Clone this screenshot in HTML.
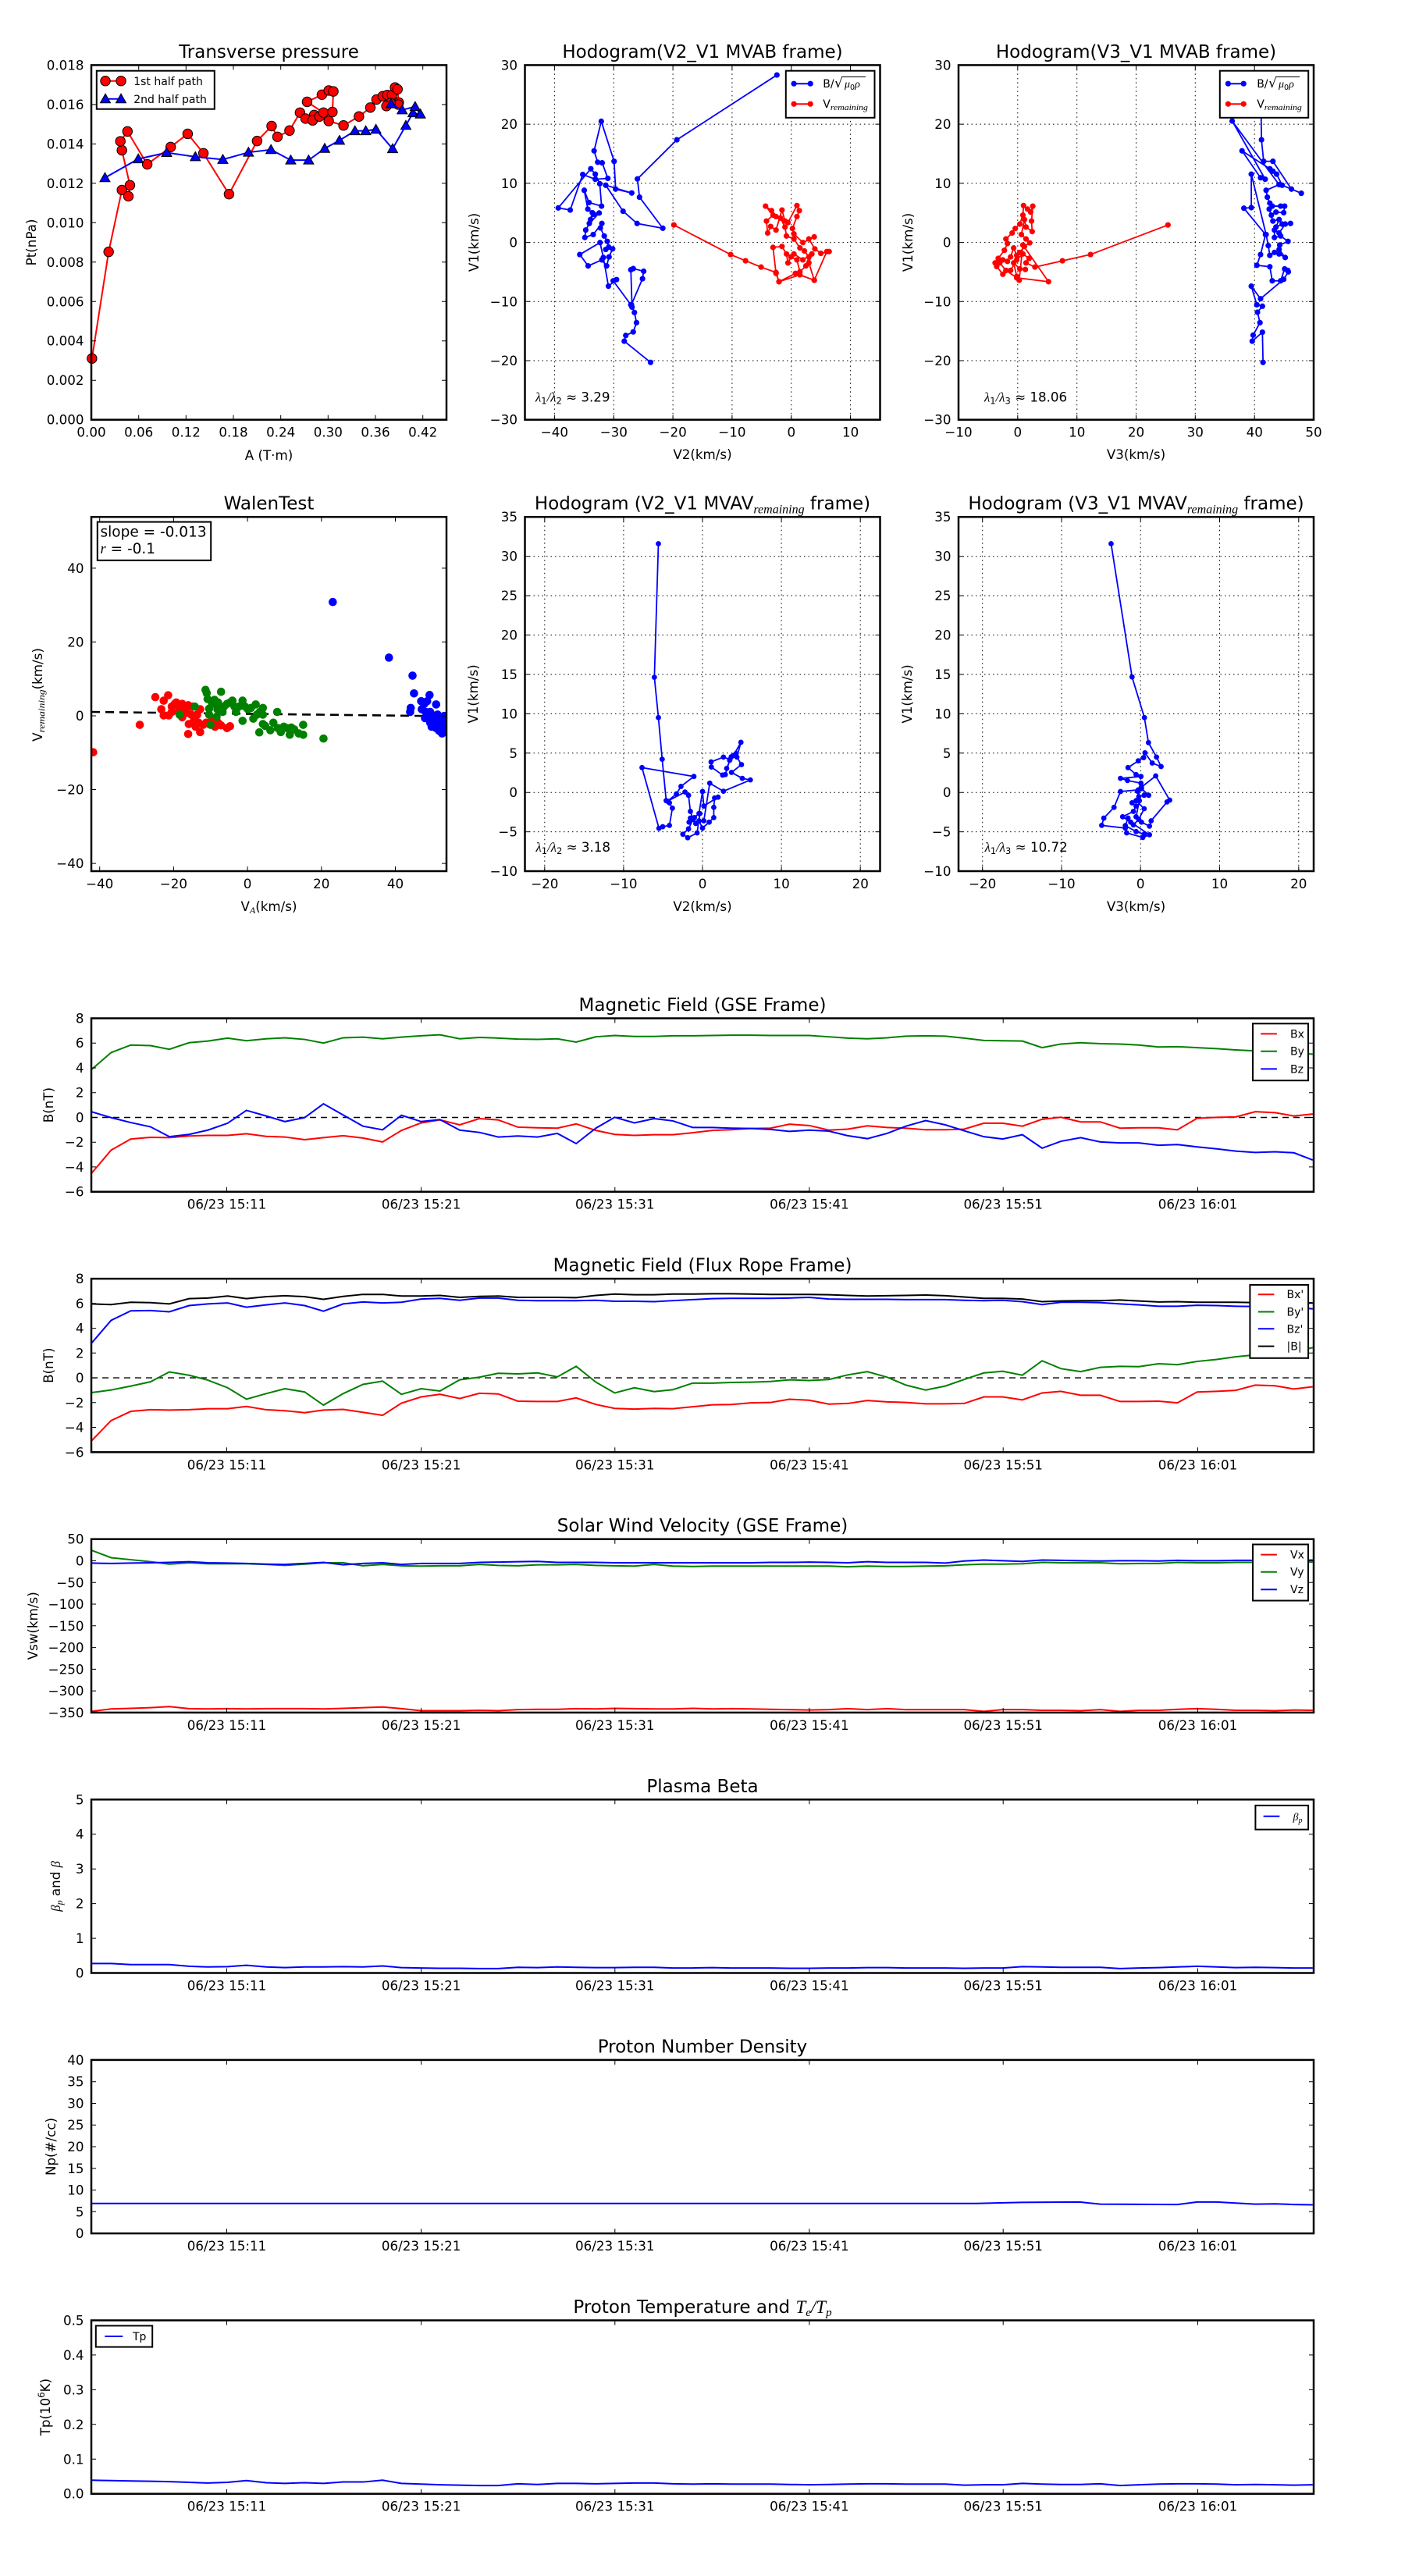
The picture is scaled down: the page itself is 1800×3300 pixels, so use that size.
<!DOCTYPE html>
<html><head><meta charset="utf-8">
<style>
html,body{margin:0;padding:0;background:#fff;width:1800px;height:3300px;overflow:hidden}
svg{display:block}
text{font-family:"DejaVu Sans","Liberation Sans",sans-serif;fill:#000}
.m{font-family:"Liberation Serif","DejaVu Serif",serif;font-style:italic}
.t{font-size:23px}
.k{font-size:16.7px}
.lg{font-size:14px}
.fr{fill:none;stroke:#000;stroke-width:2.5}
.tk{fill:none;stroke:#000;stroke-width:1}
.gd{fill:none;stroke:#000;stroke-width:1;stroke-dasharray:1.5,4}
.ln{fill:none;stroke-width:2;vector-effect:non-scaling-stroke}
.lb{fill:#fff;stroke:#000;stroke-width:2}
</style></head>
<body>
<svg width="1800" height="3300" viewBox="0 0 1800 3300" xmlns="http://www.w3.org/2000/svg">
<defs>
<marker id="mr1" viewBox="-7 -7 14 14" markerWidth="35.4" markerHeight="36.6" markerUnits="userSpaceOnUse" preserveAspectRatio="none" overflow="visible"><circle r="6.2" fill="#f00" stroke="#000" stroke-width="1"/></marker>
<marker id="mt1" viewBox="-7 -7 14 14" markerWidth="35.4" markerHeight="36.6" markerUnits="userSpaceOnUse" preserveAspectRatio="none" overflow="visible"><polygon points="0,-6.5 -6.5,5 6.5,5" fill="#00f" stroke="#000" stroke-width="1"/></marker>
<marker id="d2b" viewBox="-4 -4 8 8" markerWidth="20.9" markerHeight="20.9" markerUnits="userSpaceOnUse" preserveAspectRatio="none"><circle r="3.6" fill="#00f"/></marker>
<marker id="d2r" viewBox="-4 -4 8 8" markerWidth="20.9" markerHeight="20.9" markerUnits="userSpaceOnUse" preserveAspectRatio="none"><circle r="3.6" fill="#f00"/></marker>
<marker id="d3b" viewBox="-4 -4 8 8" markerWidth="20.23" markerHeight="20.9" markerUnits="userSpaceOnUse" preserveAspectRatio="none"><circle r="3.6" fill="#00f"/></marker>
<marker id="d3r" viewBox="-4 -4 8 8" markerWidth="20.23" markerHeight="20.9" markerUnits="userSpaceOnUse" preserveAspectRatio="none"><circle r="3.6" fill="#f00"/></marker>
<marker id="d9b" viewBox="-4 -4 8 8" markerWidth="23.23" markerHeight="23.23" markerUnits="userSpaceOnUse" preserveAspectRatio="none"><circle r="3.4" fill="#00f"/></marker>
<marker id="wr" viewBox="-5.5 -5.5 11 11" markerWidth="28.74" markerHeight="31.94" markerUnits="userSpaceOnUse" preserveAspectRatio="none"><circle r="5.3" fill="#f00"/></marker>
<marker id="wg" viewBox="-5.5 -5.5 11 11" markerWidth="28.74" markerHeight="31.94" markerUnits="userSpaceOnUse" preserveAspectRatio="none"><circle r="5.3" fill="#008000"/></marker>
<marker id="wb" viewBox="-5.5 -5.5 11 11" markerWidth="28.74" markerHeight="31.94" markerUnits="userSpaceOnUse" preserveAspectRatio="none"><circle r="5.3" fill="#00f"/></marker>
<clipPath id="cw"><rect x="117" y="662.2" width="455" height="453.8"/></clipPath>

<polyline id="p1r" vector-effect="non-scaling-stroke" points="298,1200 352,843 395,636 416,657 421,620 395,503 390,473 413,440 477,550 553,492 608,448 659,513 742,650 833,472 880,422 899,458 938,437 972,377 990,397 1018,385 1013,403 1035,390 1048,377 995,341 1043,317 1065,303 1080,306 1077,375 1065,405 1113,420 1163,390 1200,360 1220,333 1240,322 1255,318 1270,318 1280,293 1288,299 1292,343 1290,350 1265,345 1252,355"/>
<polyline id="p1b" vector-effect="non-scaling-stroke" points="340,595 448,532 540,511 633,525 722,534 805,510 878,501 942,536 1000,536 1052,497 1100,470 1150,438 1185,438 1218,433 1272,498 1315,420 1338,378 1362,382 1345,357 1303,368 1267,348"/>
<polyline id="p2b" vector-effect="non-scaling-stroke" points="1033,251 698,468 566,599 573,660 651,764 565,748 518,707 460,620 547,646 493,633 488,540 445,406 421,505 433,543 448,545 467,597 425,600 383,584 341,703 301,696 410,565 425,583 440,615 446,690 404,678 388,637 400,700 415,712 409,735 420,717 438,713 405,748 393,770 390,795 418,785 447,748 442,763 455,790 465,808 470,827 460,835 483,833 471,860 463,890 447,870 401,890 373,852 441,812 452,862 469,958 496,936 485,940 544,1020 548,1028 544,903 552,899 587,908 583,933 546,1020 556,1046 563,1080 552,1111 527,1123 522,1142 610,1213"/>
<polyline id="p2r" vector-effect="non-scaling-stroke" points="688,753 878,852 928,873 980,894 1030,912 1040,943 1095,915 1158,938 1200,842 1208,842 1180,848 1160,833 1140,800 1158,793 1120,812 1090,783 1085,765 1100,725 1108,705 1100,688 1070,745 1060,740 1050,703 1030,770 1012,758 1002,780 998,740 1020,720 995,690 1015,705 1030,725 1045,730 1060,760 1065,790 1090,800 1110,830 1125,840 1140,860 1130,890 1110,910 1100,870 1080,860 1070,880 1065,850 1050,825 1020,828 1030,915 1040,943 1110,920 1158,938 1140,880 1150,850 1120,870 1090,850"/>
<polyline id="p3r" vector-effect="non-scaling-stroke" points="800,753 549,852 458,873 369,894 340,880 350,865 330,850 310,870 290,905 265,918 245,892 240,880 250,865 270,838 280,815 275,800 295,780 305,765 320,750 330,720 332,688 345,700 355,710 362,690 358,740 360,775 340,760 335,735 325,785 340,800 352,813 335,825 320,845 310,855 300,830 290,860 280,875 265,870 255,880 275,905 310,930 413,943 330,820 318,938 310,925 300,880 320,900 338,902"/>
<polyline id="p3b" vector-effect="non-scaling-stroke" points="1100,251 1103,468 1110,540 1140,540 1200,633 1232,647 1170,620 1152,583 1140,573 1130,565 1040,505 1100,595 1115,600 1008,405 1160,618 1118,637 1122,660 1130,680 1138,690 1165,690 1178,690 1175,712 1150,710 1135,720 1128,700 1140,740 1160,735 1150,760 1170,750 1197,748 1180,750 1160,780 1145,770 1145,795 1165,790 1189,808 1162,820 1160,835 1180,862 1160,850 1145,845 1130,855 1125,822 1118,785 1070,583 1070,695 1046,697 1116,785 1100,852 1088,888 1130,893 1138,940 1165,940 1178,900 1188,905 1190,910 1175,935 1100,1000 1070,958 1088,1020 1106,1025 1090,1045 1098,1080 1076,1122 1073,1142 1106,1112 1108,1213"/>
<polyline id="p5" vector-effect="non-scaling-stroke" points="591,164 576,661 591,811 605,966 620,1120 632,1128 643,1148 632,1212 607,1217 593,1223 530,997 723,1030 675,1067 658,1095 625,1122 690,1088 703,1100 710,1160 720,1190 703,1225 682,1245 700,1258 735,1240 745,1168 742,1195 755,1222 780,1200 797,1183 797,1145 800,1110 813,1107 760,1140 755,1086 742,1168 725,1183 705,1200 710,1185 730,1205 760,1195 782,1055 833,1085 933,1043 903,1037 863,1015 900,986 883,958 898,903 870,952 857,967 833,958 787,976 788,995 830,1025 840,1023 856,970 880,945 862,957 845,1000"/>
<polyline id="p6" vector-effect="non-scaling-stroke" points="707,164 785,660 831,811 846,904 876,958 893,993 860,980 833,942 828,960 808,972 770,997 800,1023 818,1030 742,1037 768,1045 818,1055 808,1080 742,1086 718,1145 680,1185 672,1212 760,1222 765,1240 825,1257 850,1247 780,1200 750,1180 790,1160 800,1140 785,1128 810,1105 830,1100 847,1100 820,1075 805,1085 812,1120 800,1180 820,1200 850,1215 856,1195 915,1125 925,1118 873,1028 820,1070 800,1120 830,1150 810,1190 790,1210 770,1185 760,1213 800,1235 830,1245"/>
</defs>

<!-- ================= ROW 1 ================= -->
<!-- Panel 1 -->
<text class="t" x="344.5" y="74" text-anchor="middle">Transverse pressure</text>
<g transform="scale(0.39541,0.3827)">
<use href="#p1r" fill="none" stroke="#f00" stroke-width="2"/>
<use href="#p1r" fill="none" stroke="none" marker-start="url(#mr1)" marker-mid="url(#mr1)" marker-end="url(#mr1)"/>
<use href="#p1b" fill="none" stroke="#00f" stroke-width="2"/>
<use href="#p1b" fill="none" stroke="none" marker-start="url(#mt1)" marker-mid="url(#mt1)" marker-end="url(#mt1)"/>
</g>
<rect class="fr" x="117" y="83.4" width="455" height="454.3"/>
<path class="tk" d="M177.7 537.7v-6M238.3 537.7v-6M299 537.7v-6M359.7 537.7v-6M420.3 537.7v-6M481 537.7v-6M541.7 537.7v-6M177.7 83.4v6M238.3 83.4v6M299 83.4v6M359.7 83.4v6M420.3 83.4v6M481 83.4v6M541.7 83.4v6M117 487.2h6M117 436.7h6M117 386.3h6M117 335.8h6M117 285.3h6M117 234.8h6M117 184.4h6M117 133.9h6M572 487.2h-6M572 436.7h-6M572 386.3h-6M572 335.8h-6M572 285.3h-6M572 234.8h-6M572 184.4h-6M572 133.9h-6"/>
<g class="k" text-anchor="end">
<text x="107.5" y="89.4">0.018</text><text x="107.5" y="139.9">0.016</text><text x="107.5" y="190.4">0.014</text><text x="107.5" y="240.8">0.012</text><text x="107.5" y="291.3">0.010</text><text x="107.5" y="341.8">0.008</text><text x="107.5" y="392.3">0.006</text><text x="107.5" y="442.7">0.004</text><text x="107.5" y="493.2">0.002</text><text x="107.5" y="543.7">0.000</text>
</g>
<g class="k" text-anchor="middle">
<text x="117" y="559.5">0.00</text><text x="177.7" y="559.5">0.06</text><text x="238.3" y="559.5">0.12</text><text x="299" y="559.5">0.18</text><text x="359.7" y="559.5">0.24</text><text x="420.3" y="559.5">0.30</text><text x="481" y="559.5">0.36</text><text x="541.7" y="559.5">0.42</text>
<text x="344.5" y="589">A (T·m)</text>
<text transform="translate(46,310.5) rotate(-90)">Pt(nPa)</text>
</g>
<rect class="lb" x="123.8" y="90.7" width="151" height="49"/>
<path d="M135 103.7H155" stroke="#f00" stroke-width="2"/>
<circle cx="135" cy="103.7" r="6.2" fill="#f00" stroke="#000"/><circle cx="155" cy="103.7" r="6.2" fill="#f00" stroke="#000"/>
<text class="lg" x="171.2" y="108.8">1st half path</text>
<path d="M135 126.7H155" stroke="#00f" stroke-width="2"/>
<polygon points="135,120.2 128.5,131.7 141.5,131.7" fill="#00f" stroke="#000"/><polygon points="155,120.2 148.5,131.7 161.5,131.7" fill="#00f" stroke="#000"/>
<text class="lg" x="171.2" y="131.8">2nd half path</text>

<!-- Panel 2 -->
<text class="t" x="900" y="74" text-anchor="middle">Hodogram(V2_V1 MVAB frame)</text>
<path class="gd" d="M710.4 83.4V537.7M786.3 83.4V537.7M862.1 83.4V537.7M937.9 83.4V537.7M1013.8 83.4V537.7M1089.6 83.4V537.7M672.5 159.1H1127.5M672.5 234.8H1127.5M672.5 310.6H1127.5M672.5 386.3H1127.5M672.5 462H1127.5"/>
<g transform="translate(600,0) scale(0.3827)">
<use href="#p2b" fill="none" stroke="#00f" stroke-width="1.8"/>
<use href="#p2b" fill="none" stroke="none" marker-start="url(#d2b)" marker-mid="url(#d2b)" marker-end="url(#d2b)"/>
<use href="#p2r" fill="none" stroke="#f00" stroke-width="1.8"/>
<use href="#p2r" fill="none" stroke="none" marker-start="url(#d2r)" marker-mid="url(#d2r)" marker-end="url(#d2r)"/>
</g>
<rect class="fr" x="672.5" y="83.4" width="455" height="454.3"/>
<path class="tk" d="M710.4 537.7v-6M786.3 537.7v-6M862.1 537.7v-6M937.9 537.7v-6M1013.8 537.7v-6M1089.6 537.7v-6M710.4 83.4v6M786.3 83.4v6M862.1 83.4v6M937.9 83.4v6M1013.8 83.4v6M1089.6 83.4v6M672.5 159.1h6M672.5 234.8h6M672.5 310.6h6M672.5 386.3h6M672.5 462h6M1127.5 159.1h-6M1127.5 234.8h-6M1127.5 310.6h-6M1127.5 386.3h-6M1127.5 462h-6"/>
<g class="k" text-anchor="end">
<text x="663" y="89.4">30</text><text x="663" y="165.1">20</text><text x="663" y="240.8">10</text><text x="663" y="316.6">0</text><text x="663" y="392.3">−10</text><text x="663" y="468">−20</text><text x="663" y="543.7">−30</text>
</g>
<g class="k" text-anchor="middle">
<text x="710.4" y="559.5">−40</text><text x="786.3" y="559.5">−30</text><text x="862.1" y="559.5">−20</text><text x="937.9" y="559.5">−10</text><text x="1013.8" y="559.5">0</text><text x="1089.6" y="559.5">10</text>
<text x="900" y="588">V2(km/s)</text>
<text transform="translate(613,310.5) rotate(-90)">V1(km/s)</text>
</g>
<text class="k" x="686" y="514.7"><tspan class="m">λ</tspan><tspan font-size="11.5" dy="3">1</tspan><tspan class="m" dy="-3">/λ</tspan><tspan font-size="11.5" dy="3">2</tspan><tspan dy="-3"> ≈ 3.29</tspan></text>
<rect class="lb" x="1006.8" y="90.7" width="113.7" height="60.1"/>
<path d="M1017.1 107.2H1038.2" stroke="#00f" stroke-width="2"/><circle cx="1017.1" cy="107.2" r="3.6" fill="#00f"/><circle cx="1038.2" cy="107.2" r="3.6" fill="#00f"/>
<text class="lg" x="1054.3" y="112.2">B/<tspan x="1069" font-size="17">√</tspan><tspan class="m" x="1082">μ</tspan><tspan font-size="9.5" dy="3">0</tspan><tspan class="m" dy="-3">ρ</tspan></text>
<path d="M1078 98.5H1109" stroke="#000" stroke-width="0.9"/>
<path d="M1017.1 133.2H1038.2" stroke="#f00" stroke-width="2"/><circle cx="1017.1" cy="133.2" r="3.6" fill="#f00"/><circle cx="1038.2" cy="133.2" r="3.6" fill="#f00"/>
<text class="lg" x="1054.3" y="138.2">V<tspan class="m" font-size="11" dy="3" textLength="48" lengthAdjust="spacingAndGlyphs">remaining</tspan></text>

<!-- Panel 3 -->
<text class="t" x="1455.5" y="74" text-anchor="middle">Hodogram(V3_V1 MVAB frame)</text>
<path class="gd" d="M1303.8 83.4V537.7M1379.7 83.4V537.7M1455.5 83.4V537.7M1531.3 83.4V537.7M1607.2 83.4V537.7M1228 159.1H1683M1228 234.8H1683M1228 310.6H1683M1228 386.3H1683M1228 462H1683"/>
<g transform="translate(1180,0) scale(0.39541,0.3827)">
<use href="#p3b" fill="none" stroke="#00f" stroke-width="1.8"/>
<use href="#p3b" fill="none" stroke="none" marker-start="url(#d3b)" marker-mid="url(#d3b)" marker-end="url(#d3b)"/>
<use href="#p3r" fill="none" stroke="#f00" stroke-width="1.8"/>
<use href="#p3r" fill="none" stroke="none" marker-start="url(#d3r)" marker-mid="url(#d3r)" marker-end="url(#d3r)"/>
</g>
<rect class="fr" x="1228" y="83.4" width="455" height="454.3"/>
<path class="tk" d="M1303.8 537.7v-6M1379.7 537.7v-6M1455.5 537.7v-6M1531.3 537.7v-6M1607.2 537.7v-6M1303.8 83.4v6M1379.7 83.4v6M1455.5 83.4v6M1531.3 83.4v6M1607.2 83.4v6M1228 159.1h6M1228 234.8h6M1228 310.6h6M1228 386.3h6M1228 462h6M1683 159.1h-6M1683 234.8h-6M1683 310.6h-6M1683 386.3h-6M1683 462h-6"/>
<g class="k" text-anchor="end">
<text x="1218.5" y="89.4">30</text><text x="1218.5" y="165.1">20</text><text x="1218.5" y="240.8">10</text><text x="1218.5" y="316.6">0</text><text x="1218.5" y="392.3">−10</text><text x="1218.5" y="468">−20</text><text x="1218.5" y="543.7">−30</text>
</g>
<g class="k" text-anchor="middle">
<text x="1228" y="559.5">−10</text><text x="1303.8" y="559.5">0</text><text x="1379.7" y="559.5">10</text><text x="1455.5" y="559.5">20</text><text x="1531.3" y="559.5">30</text><text x="1607.2" y="559.5">40</text><text x="1683" y="559.5">50</text>
<text x="1455.5" y="588">V3(km/s)</text>
<text transform="translate(1169,310.5) rotate(-90)">V1(km/s)</text>
</g>
<text class="k" x="1261" y="514.7"><tspan class="m">λ</tspan><tspan font-size="11.5" dy="3">1</tspan><tspan class="m" dy="-3">/λ</tspan><tspan font-size="11.5" dy="3">3</tspan><tspan dy="-3"> ≈ 18.06</tspan></text>
<rect class="lb" x="1562.8" y="90.7" width="113.4" height="60.1"/>
<path d="M1573.4 107.2H1593.2" stroke="#00f" stroke-width="2"/><circle cx="1573.4" cy="107.2" r="3.6" fill="#00f"/><circle cx="1593.2" cy="107.2" r="3.6" fill="#00f"/>
<text class="lg" x="1610.2" y="112.2">B/<tspan x="1625" font-size="17">√</tspan><tspan class="m" x="1638">μ</tspan><tspan font-size="9.5" dy="3">0</tspan><tspan class="m" dy="-3">ρ</tspan></text>
<path d="M1634 98.5H1665" stroke="#000" stroke-width="0.9"/>
<path d="M1573.4 133.2H1593.2" stroke="#f00" stroke-width="2"/><circle cx="1573.4" cy="133.2" r="3.6" fill="#f00"/><circle cx="1593.2" cy="133.2" r="3.6" fill="#f00"/>
<text class="lg" x="1610.2" y="138.2">V<tspan class="m" font-size="11" dy="3" textLength="48" lengthAdjust="spacingAndGlyphs">remaining</tspan></text>

<!-- ================= ROW 2 ================= -->
<!-- Walen -->
<text class="t" x="344.5" y="652.7" text-anchor="middle">WalenTest</text>
<g clip-path="url(#cw)">
<line x1="117" y1="912" x2="572" y2="917.5" stroke="#000" stroke-width="2.6" stroke-dasharray="11,7"/>
<g transform="translate(0,640) scale(0.3827,0.34435)">
<polyline fill="none" stroke="none" marker-start="url(#wr)" marker-mid="url(#wr)" marker-end="url(#wr)" points="312,940 468,838 520,735 548,748 563,728 540,780 548,803 565,803 575,790 590,755 600,780 610,810 615,770 625,790 630,765 632,835 630,872 640,800 650,820 660,800 665,830 670,780 670,865 680,838 690,830 700,835 710,820 720,845 730,830 740,840 760,850 770,843 575,770 585,760 610,760 620,795 655,845 600,795 645,770"/>
<polyline fill="none" stroke="none" marker-start="url(#wg)" marker-mid="url(#wg)" marker-end="url(#wg)" points="601,800 652,770 688,708 695,742 692,720 705,838 700,778 710,760 718,745 730,755 740,715 745,790 750,770 760,760 770,755 778,748 785,770 790,790 800,770 812,748 812,823 820,770 830,780 840,775 848,815 856,762 860,800 870,790 868,866 880,775 880,800 880,835 888,842 905,858 915,830 928,790 930,850 940,865 950,845 960,850 970,875 975,848 985,855 1000,870 1015,838 1015,875 1083,889 728,780 725,808 700,800"/>
<polyline fill="none" stroke="none" marker-start="url(#wb)" marker-mid="url(#wb)" marker-end="url(#wb)" points="1114,381 1302,588 1381,655 1386,721 1438,727 1375,775 1373,790 1410,750 1420,760 1430,750 1460,762 1412,780 1425,790 1440,790 1445,800 1455,810 1423,813 1440,830 1450,840 1460,820 1470,835 1480,830 1487,805 1460,850 1470,860 1480,870 1475,845 1485,850 1445,845 1432,805 1465,800 1478,820 1490,860"/>
</g>
</g>
<rect class="fr" x="117" y="662.2" width="455" height="453.8"/>
<path class="tk" d="M127.7 1116v-6M222.4 1116v-6M317.1 1116v-6M411.8 1116v-6M506.5 1116v-6M127.7 662.2v6M222.4 662.2v6M317.1 662.2v6M411.8 662.2v6M506.5 662.2v6M117 727.9h6M117 822.4h6M117 917h6M117 1011.5h6M117 1106.1h6M572 727.9h-6M572 822.4h-6M572 917h-6M572 1011.5h-6M572 1106.1h-6"/>
<g class="k" text-anchor="end">
<text x="107.5" y="733.9">40</text><text x="107.5" y="828.4">20</text><text x="107.5" y="923">0</text><text x="107.5" y="1017.5">−20</text><text x="107.5" y="1112.1">−40</text>
</g>
<g class="k" text-anchor="middle">
<text x="127.7" y="1137.8">−40</text><text x="222.4" y="1137.8">−20</text><text x="317.1" y="1137.8">0</text><text x="411.8" y="1137.8">20</text><text x="506.5" y="1137.8">40</text>
<text x="344.5" y="1167">V<tspan class="m" font-size="12" dy="3">A</tspan><tspan dy="-3">(km/s)</tspan></text>
<text transform="translate(54,890) rotate(-90)">V<tspan class="m" font-size="12" dy="3" textLength="55" lengthAdjust="spacingAndGlyphs">remaining</tspan><tspan dy="-3">(km/s)</tspan></text>
</g>
<rect class="lb" x="124.8" y="668.6" width="145.4" height="49.2"/>
<text x="128.5" y="687.5" font-size="18.5">slope = -0.013</text>
<text x="128.5" y="709" font-size="18.5"><tspan class="m">r</tspan> = -0.1</text>

<!-- Panel 5 -->
<text class="t" x="900" y="652.7" text-anchor="middle">Hodogram (V2_V1 MVAV<tspan class="m" font-size="16" dy="5">remaining</tspan><tspan dy="-5"> frame)</tspan></text>
<path class="gd" d="M697.8 662.2V1116M798.9 662.2V1116M900 662.2V1116M1001.1 662.2V1116M1102.2 662.2V1116M672.5 712.7H1127.5M672.5 763.1H1127.5M672.5 813.5H1127.5M672.5 864H1127.5M672.5 914.4H1127.5M672.5 964.8H1127.5M672.5 1015.2H1127.5M672.5 1065.6H1127.5"/>
<g transform="translate(640,640) scale(0.34435)">
<use href="#p5" fill="none" stroke="#00f" stroke-width="1.8"/>
<use href="#p5" fill="none" stroke="none" marker-start="url(#d9b)" marker-mid="url(#d9b)" marker-end="url(#d9b)"/>
</g>
<rect class="fr" x="672.5" y="662.2" width="455" height="453.8"/>
<path class="tk" d="M697.8 1116v-6M798.9 1116v-6M900 1116v-6M1001.1 1116v-6M1102.2 1116v-6M697.8 662.2v6M798.9 662.2v6M900 662.2v6M1001.1 662.2v6M1102.2 662.2v6M672.5 712.7h6M672.5 763.1h6M672.5 813.5h6M672.5 864h6M672.5 914.4h6M672.5 964.8h6M672.5 1015.2h6M672.5 1065.6h6M1127.5 712.7h-6M1127.5 763.1h-6M1127.5 813.5h-6M1127.5 864h-6M1127.5 914.4h-6M1127.5 964.8h-6M1127.5 1015.2h-6M1127.5 1065.6h-6"/>
<g class="k" text-anchor="end">
<text x="663" y="668.2">35</text><text x="663" y="718.7">30</text><text x="663" y="769.1">25</text><text x="663" y="819.5">20</text><text x="663" y="870">15</text><text x="663" y="920.4">10</text><text x="663" y="970.8">5</text><text x="663" y="1021.2">0</text><text x="663" y="1071.6">−5</text><text x="663" y="1122">−10</text>
</g>
<g class="k" text-anchor="middle">
<text x="697.8" y="1137.8">−20</text><text x="798.9" y="1137.8">−10</text><text x="900" y="1137.8">0</text><text x="1001.1" y="1137.8">10</text><text x="1102.2" y="1137.8">20</text>
<text x="900" y="1167">V2(km/s)</text>
<text transform="translate(612,889) rotate(-90)">V1(km/s)</text>
</g>
<text class="k" x="686.5" y="1091"><tspan class="m">λ</tspan><tspan font-size="11.5" dy="3">1</tspan><tspan class="m" dy="-3">/λ</tspan><tspan font-size="11.5" dy="3">2</tspan><tspan dy="-3"> ≈ 3.18</tspan></text>

<!-- Panel 6 -->
<text class="t" x="1455.5" y="652.7" text-anchor="middle">Hodogram (V3_V1 MVAV<tspan class="m" font-size="16" dy="5">remaining</tspan><tspan dy="-5"> frame)</tspan></text>
<path class="gd" d="M1258.7 662.2V1116M1360 662.2V1116M1461.2 662.2V1116M1562.5 662.2V1116M1663.8 662.2V1116M1228 712.7H1683M1228 763.1H1683M1228 813.5H1683M1228 864H1683M1228 914.4H1683M1228 964.8H1683M1228 1015.2H1683M1228 1065.6H1683"/>
<g transform="translate(1180,640) scale(0.34435)">
<use href="#p6" fill="none" stroke="#00f" stroke-width="1.8"/>
<use href="#p6" fill="none" stroke="none" marker-start="url(#d9b)" marker-mid="url(#d9b)" marker-end="url(#d9b)"/>
</g>
<rect class="fr" x="1228" y="662.2" width="455" height="453.8"/>
<path class="tk" d="M1258.7 1116v-6M1360 1116v-6M1461.2 1116v-6M1562.5 1116v-6M1663.8 1116v-6M1258.7 662.2v6M1360 662.2v6M1461.2 662.2v6M1562.5 662.2v6M1663.8 662.2v6M1228 712.7h6M1228 763.1h6M1228 813.5h6M1228 864h6M1228 914.4h6M1228 964.8h6M1228 1015.2h6M1228 1065.6h6M1683 712.7h-6M1683 763.1h-6M1683 813.5h-6M1683 864h-6M1683 914.4h-6M1683 964.8h-6M1683 1015.2h-6M1683 1065.6h-6"/>
<g class="k" text-anchor="end">
<text x="1218.5" y="668.2">35</text><text x="1218.5" y="718.7">30</text><text x="1218.5" y="769.1">25</text><text x="1218.5" y="819.5">20</text><text x="1218.5" y="870">15</text><text x="1218.5" y="920.4">10</text><text x="1218.5" y="970.8">5</text><text x="1218.5" y="1021.2">0</text><text x="1218.5" y="1071.6">−5</text><text x="1218.5" y="1122">−10</text>
</g>
<g class="k" text-anchor="middle">
<text x="1258.7" y="1137.8">−20</text><text x="1360" y="1137.8">−10</text><text x="1461.2" y="1137.8">0</text><text x="1562.5" y="1137.8">10</text><text x="1663.8" y="1137.8">20</text>
<text x="1455.5" y="1167">V3(km/s)</text>
<text transform="translate(1168,889) rotate(-90)">V1(km/s)</text>
</g>
<text class="k" x="1261.6" y="1091"><tspan class="m">λ</tspan><tspan font-size="11.5" dy="3">1</tspan><tspan class="m" dy="-3">/λ</tspan><tspan font-size="11.5" dy="3">3</tspan><tspan dy="-3"> ≈ 10.72</tspan></text>

<!-- ================= TIME SERIES ================= -->
<!-- GSE magnetic field -->
<text class="t" x="900" y="1295" text-anchor="middle">Magnetic Field (GSE Frame)</text>
<line x1="117" y1="1431.5" x2="1683" y2="1431.5" stroke="#000" stroke-width="1.4" stroke-dasharray="8,6"/>
<g transform="translate(0,1260) scale(1.14796,0.42092)">
<polyline class="ln" stroke="#f00" points="102,578 124,507 146,473 168,468 189,469 211,464 232,462 254,462 275,457 297,465 318,467 340,475 361,469 383,463 405,470 427,482 448,447 470,424 491,415 513,430 535,411 556,415 578,437 600,439 622,440 643,427 665,447 686,459 708,462 730,460 751,460 773,454 795,447 816,445 838,441 860,440 881,428 903,432 925,446 946,443 968,433 990,438 1011,440 1033,445 1055,445 1076,443 1098,425 1119,425 1141,434 1163,413 1184,407 1206,421 1228,421 1250,440 1271,439 1293,439 1314,445 1336,410 1358,407 1379,406 1401,390 1423,393 1444,403 1465,397"/>
<polyline class="ln" stroke="#008000" points="102,262 124,210 146,187 168,189 189,200 211,180 232,175 254,166 275,174 297,168 318,165 340,170 361,181 383,165 405,163 427,168 448,163 470,159 491,156 513,168 535,164 556,166 578,169 600,170 622,168 643,178 665,162 686,158 708,161 730,161 751,159 773,159 795,158 816,157 838,157 860,158 881,158 903,158 925,162 946,166 968,168 990,165 1011,160 1033,159 1055,160 1076,166 1098,173 1119,174 1141,175 1163,195 1184,184 1206,180 1228,183 1250,184 1271,187 1293,193 1314,192 1336,195 1358,198 1379,202 1401,205 1423,207 1444,210 1465,215"/>
<polyline class="ln" stroke="#00f" points="102,390 124,408 146,423 168,436 189,466 211,459 232,446 254,425 275,386 297,403 318,420 340,408 361,366 383,400 405,434 427,445 448,401 470,420 491,414 513,446 535,453 556,467 578,464 600,467 622,456 643,487 665,440 686,407 708,424 730,411 751,418 773,438 795,438 816,440 838,441 860,444 881,450 903,446 925,449 946,463 968,472 990,456 1011,434 1033,417 1055,430 1076,448 1098,466 1119,473 1141,460 1163,501 1184,480 1206,469 1228,482 1250,485 1271,485 1293,492 1314,490 1336,497 1358,503 1379,510 1401,514 1423,512 1444,515 1465,537"/>
</g>
<rect class="fr" x="117" y="1304.5" width="1566" height="222.2"/>
<path class="tk" d="M290.5 1526.7v-6M539.6 1526.7v-6M787.8 1526.7v-6M1036.9 1526.7v-6M1285.2 1526.7v-6M1534.5 1526.7v-6M290.5 1304.5v6M539.6 1304.5v6M787.8 1304.5v6M1036.9 1304.5v6M1285.2 1304.5v6M1534.5 1304.5v6M117 1336.2h6M117 1368h6M117 1399.7h6M117 1431.5h6M117 1463.2h6M117 1494.9h6M1683 1336.2h-6M1683 1368h-6M1683 1399.7h-6M1683 1431.5h-6M1683 1463.2h-6M1683 1494.9h-6"/>
<g class="k" text-anchor="end">
<text x="107.5" y="1310.5">8</text><text x="107.5" y="1342.2">6</text><text x="107.5" y="1374">4</text><text x="107.5" y="1405.7">2</text><text x="107.5" y="1437.5">0</text><text x="107.5" y="1469.2">−2</text><text x="107.5" y="1500.9">−4</text><text x="107.5" y="1532.7">−6</text>
</g>
<g class="k" text-anchor="middle">
<text x="290.5" y="1548.7">06/23 15:11</text><text x="539.6" y="1548.7">06/23 15:21</text><text x="787.8" y="1548.7">06/23 15:31</text><text x="1036.9" y="1548.7">06/23 15:41</text><text x="1285.2" y="1548.7">06/23 15:51</text><text x="1534.5" y="1548.7">06/23 16:01</text>
<text transform="translate(68,1415.6) rotate(-90)">B(nT)</text>
</g>
<rect class="lb" x="1605" y="1311.3" width="71" height="72.9"/>
<path d="M1615.2 1324.4H1635.9" stroke="#f00" stroke-width="2"/><text class="lg" x="1653" y="1329.4">Bx</text>
<path d="M1615.2 1346.7H1635.9" stroke="#008000" stroke-width="2"/><text class="lg" x="1653" y="1351.7">By</text>
<path d="M1615.2 1369.4H1635.9" stroke="#00f" stroke-width="2"/><text class="lg" x="1653" y="1374.4">Bz</text>

<!-- Flux rope frame -->
<text class="t" x="900" y="1628.6" text-anchor="middle">Magnetic Field (Flux Rope Frame)</text>
<line x1="117" y1="1765.1" x2="1683" y2="1765.1" stroke="#000" stroke-width="1.4" stroke-dasharray="8,6"/>
<g transform="translate(0,1260) scale(1.14796,0.42092)">
<polyline class="ln" stroke="#f00" points="102,1392 124,1330 146,1302 168,1297 189,1298 211,1297 232,1294 254,1294 275,1287 297,1297 318,1300 340,1306 361,1298 383,1296 405,1305 427,1314 448,1277 470,1258 491,1250 513,1263 535,1247 556,1249 578,1271 600,1272 622,1272 643,1261 665,1281 686,1293 708,1295 730,1293 751,1294 773,1288 795,1282 816,1281 838,1276 860,1275 881,1265 903,1268 925,1280 946,1278 968,1269 990,1273 1011,1275 1033,1279 1055,1279 1076,1278 1098,1258 1119,1258 1141,1267 1163,1246 1184,1241 1206,1253 1228,1253 1250,1272 1271,1272 1293,1271 1314,1276 1336,1243 1358,1241 1379,1238 1401,1222 1423,1224 1444,1234 1465,1227"/>
<polyline class="ln" stroke="#008000" points="102,1245 124,1237 146,1225 168,1212 189,1182 211,1192 232,1207 254,1230 275,1265 297,1248 318,1233 340,1243 361,1283 383,1248 405,1220 427,1210 448,1250 470,1233 491,1240 513,1206 535,1198 556,1186 578,1188 600,1185 622,1197 643,1165 665,1213 686,1246 708,1230 730,1242 751,1236 773,1216 795,1216 816,1214 838,1213 860,1211 881,1206 903,1208 925,1205 946,1191 968,1181 990,1198 1011,1222 1033,1237 1055,1225 1076,1205 1098,1185 1119,1180 1141,1192 1163,1148 1184,1172 1206,1181 1228,1168 1250,1165 1271,1166 1293,1157 1314,1160 1336,1150 1358,1144 1379,1136 1401,1130 1423,1125 1444,1120 1465,1108"/>
<polyline class="ln" stroke="#00f" points="102,1095 124,1025 146,996 168,995 189,999 211,980 232,975 254,972 275,985 297,978 318,972 340,980 361,997 383,975 405,969 427,972 448,970 470,960 491,958 513,964 535,957 556,957 578,964 600,965 622,965 643,965 665,964 686,967 708,967 730,968 751,965 773,962 795,959 816,958 838,958 860,958 881,957 903,955 925,960 946,961 968,961 990,961 1011,962 1033,962 1055,962 1076,964 1098,965 1119,964 1141,968 1163,977 1184,970 1206,970 1228,971 1250,975 1271,978 1293,982 1314,982 1336,979 1358,980 1379,982 1401,983 1423,983 1444,984 1465,990"/>
<polyline class="ln" stroke="#000" points="102,975 124,977 146,970 168,971 189,975 211,959 232,957 254,951 275,959 297,953 318,950 340,953 361,961 383,952 405,946 427,946 448,951 470,951 491,949 513,955 535,952 556,951 578,955 600,955 622,955 643,956 665,949 686,945 708,947 730,947 751,945 773,945 795,944 816,944 838,945 860,946 881,946 903,946 925,947 946,949 968,951 990,950 1011,949 1033,948 1055,950 1076,954 1098,958 1119,958 1141,960 1163,968 1184,966 1206,965 1228,965 1250,963 1271,966 1293,969 1314,968 1336,970 1358,970 1379,970 1401,971 1423,971 1444,971 1465,972"/>
</g>
<rect class="fr" x="117" y="1638.1" width="1566" height="222.2"/>
<path class="tk" d="M290.5 1860.3v-6M539.6 1860.3v-6M787.8 1860.3v-6M1036.9 1860.3v-6M1285.2 1860.3v-6M1534.5 1860.3v-6M290.5 1638.1v6M539.6 1638.1v6M787.8 1638.1v6M1036.9 1638.1v6M1285.2 1638.1v6M1534.5 1638.1v6M117 1669.8h6M117 1701.6h6M117 1733.3h6M117 1765.1h6M117 1796.8h6M117 1828.5h6M1683 1669.8h-6M1683 1701.6h-6M1683 1733.3h-6M1683 1765.1h-6M1683 1796.8h-6M1683 1828.5h-6"/>
<g class="k" text-anchor="end">
<text x="107.5" y="1644.1">8</text><text x="107.5" y="1675.8">6</text><text x="107.5" y="1707.6">4</text><text x="107.5" y="1739.3">2</text><text x="107.5" y="1771.1">0</text><text x="107.5" y="1802.8">−2</text><text x="107.5" y="1834.5">−4</text><text x="107.5" y="1866.3">−6</text>
</g>
<g class="k" text-anchor="middle">
<text x="290.5" y="1882.3">06/23 15:11</text><text x="539.6" y="1882.3">06/23 15:21</text><text x="787.8" y="1882.3">06/23 15:31</text><text x="1036.9" y="1882.3">06/23 15:41</text><text x="1285.2" y="1882.3">06/23 15:51</text><text x="1534.5" y="1882.3">06/23 16:01</text>
<text transform="translate(68,1749.2) rotate(-90)">B(nT)</text>
</g>
<rect class="lb" x="1601.4" y="1646" width="74.7" height="93.8"/>
<path d="M1611.8 1658.2H1632.4" stroke="#f00" stroke-width="2"/><text class="lg" x="1648.5" y="1663.2">Bx'</text>
<path d="M1611.8 1680.5H1632.4" stroke="#008000" stroke-width="2"/><text class="lg" x="1648.5" y="1685.5">By'</text>
<path d="M1611.8 1702.3H1632.4" stroke="#00f" stroke-width="2"/><text class="lg" x="1648.5" y="1707.3">Bz'</text>
<path d="M1611.8 1724.6H1632.4" stroke="#000" stroke-width="2"/><text class="lg" x="1648.5" y="1729.6">|B|</text>

<!-- Velocity -->
<text class="t" x="900" y="1962.2" text-anchor="middle">Solar Wind Velocity (GSE Frame)</text>
<g transform="translate(0,1920) scale(1.14796,0.43367)">
<polyline class="ln" stroke="#f00" points="102,628 124,621 146,619 168,617 189,614 211,620 232,621 254,620 275,621 297,620 318,620 340,620 361,621 383,619 405,617 427,615 448,620 470,626 491,626 513,626 535,625 556,626 578,623 600,622 622,622 643,620 665,621 686,619 708,620 730,621 751,621 773,619 795,621 816,620 838,621 860,622 881,623 903,624 925,623 946,620 968,623 990,620 1011,623 1033,623 1055,623 1076,623 1098,628 1119,623 1141,623 1163,625 1184,625 1206,626 1228,623 1250,628 1271,625 1293,625 1314,622 1336,620 1358,622 1379,625 1401,625 1423,626 1444,624 1465,625"/>
<polyline class="ln" stroke="#008000" points="102,152 124,174 146,180 168,186 189,193 211,189 232,192 254,192 275,192 297,194 318,197 340,193 361,189 383,189 405,198 427,194 448,198 470,199 491,198 513,198 535,194 556,197 578,198 600,195 622,195 643,194 665,197 686,198 708,199 730,194 751,199 773,200 795,199 816,199 838,199 860,199 881,199 903,199 925,199 946,201 968,199 990,200 1011,200 1033,199 1055,198 1076,195 1098,193 1119,193 1141,192 1163,188 1184,189 1206,189 1228,189 1250,192 1271,191 1293,191 1314,188 1336,189 1358,189 1379,188 1401,188 1423,188 1444,187 1465,187"/>
<polyline class="ln" stroke="#00f" points="102,190 124,191 146,190 168,189 189,188 211,186 232,189 254,190 275,191 297,193 318,194 340,191 361,188 383,195 405,191 427,189 448,194 470,191 491,191 513,191 535,188 556,187 578,186 600,185 622,188 643,188 665,188 686,189 708,189 730,189 751,189 773,189 795,189 816,189 838,189 860,188 881,188 903,187 925,188 946,189 968,186 990,188 1011,188 1033,188 1055,190 1076,184 1098,181 1119,183 1141,185 1163,181 1184,182 1206,183 1228,184 1250,183 1271,183 1293,184 1314,182 1336,183 1358,183 1379,182 1401,182 1423,182 1444,182 1465,181"/>
</g>
<rect class="fr" x="117" y="1971.7" width="1566" height="222.2"/>
<path class="tk" d="M290.5 2193.9v-6M539.6 2193.9v-6M787.8 2193.9v-6M1036.9 2193.9v-6M1285.2 2193.9v-6M1534.5 2193.9v-6M290.5 1971.7v6M539.6 1971.7v6M787.8 1971.7v6M1036.9 1971.7v6M1285.2 1971.7v6M1534.5 1971.7v6M117 1999.5h6M117 2027.3h6M117 2055h6M117 2082.8h6M117 2110.6h6M117 2138.4h6M117 2166.1h6M1683 1999.5h-6M1683 2027.3h-6M1683 2055h-6M1683 2082.8h-6M1683 2110.6h-6M1683 2138.4h-6M1683 2166.1h-6"/>
<g class="k" text-anchor="end">
<text x="107.5" y="1977.7">50</text><text x="107.5" y="2005.5">0</text><text x="107.5" y="2033.3">−50</text><text x="107.5" y="2061">−100</text><text x="107.5" y="2088.8">−150</text><text x="107.5" y="2116.6">−200</text><text x="107.5" y="2144.4">−250</text><text x="107.5" y="2172.1">−300</text><text x="107.5" y="2199.9">−350</text>
</g>
<g class="k" text-anchor="middle">
<text x="290.5" y="2215.9">06/23 15:11</text><text x="539.6" y="2215.9">06/23 15:21</text><text x="787.8" y="2215.9">06/23 15:31</text><text x="1036.9" y="2215.9">06/23 15:41</text><text x="1285.2" y="2215.9">06/23 15:51</text><text x="1534.5" y="2215.9">06/23 16:01</text>
<text transform="translate(48,2082.8) rotate(-90)">Vsw(km/s)</text>
</g>
<rect class="lb" x="1605" y="1978.5" width="71" height="72"/>
<path d="M1615.2 1991.6H1635.9" stroke="#f00" stroke-width="2"/><text class="lg" x="1653" y="1996.6">Vx</text>
<path d="M1615.2 2013.7H1635.9" stroke="#008000" stroke-width="2"/><text class="lg" x="1653" y="2018.7">Vy</text>
<path d="M1615.2 2036.2H1635.9" stroke="#00f" stroke-width="2"/><text class="lg" x="1653" y="2041.2">Vz</text>

<!-- Plasma beta -->
<text class="t" x="900" y="2295.8" text-anchor="middle">Plasma Beta</text>
<g transform="translate(0,1920) scale(1.14796,0.43367)">
<polyline class="ln" stroke="#00f" points="102,1373 124,1373 146,1376 168,1376 189,1376 211,1381 232,1383 254,1382 275,1378 297,1383 318,1385 340,1383 361,1383 383,1382 405,1383 427,1380 448,1385 470,1386 491,1387 513,1387 535,1388 556,1388 578,1384 600,1385 622,1383 643,1384 665,1385 686,1385 708,1384 730,1384 751,1386 773,1386 795,1385 816,1386 838,1386 860,1386 881,1387 903,1387 925,1386 946,1386 968,1385 990,1385 1011,1386 1033,1386 1055,1386 1076,1387 1098,1386 1119,1386 1141,1382 1163,1383 1184,1384 1206,1384 1228,1384 1250,1388 1271,1386 1293,1385 1314,1383 1336,1381 1358,1383 1379,1385 1401,1384 1423,1385 1444,1386 1465,1386"/>
</g>
<rect class="fr" x="117" y="2305.3" width="1566" height="222.2"/>
<path class="tk" d="M290.5 2527.5v-6M539.6 2527.5v-6M787.8 2527.5v-6M1036.9 2527.5v-6M1285.2 2527.5v-6M1534.5 2527.5v-6M290.5 2305.3v6M539.6 2305.3v6M787.8 2305.3v6M1036.9 2305.3v6M1285.2 2305.3v6M1534.5 2305.3v6M117 2349.7h6M117 2394.2h6M117 2438.6h6M117 2483.1h6M1683 2349.7h-6M1683 2394.2h-6M1683 2438.6h-6M1683 2483.1h-6"/>
<g class="k" text-anchor="end">
<text x="107.5" y="2311.3">5</text><text x="107.5" y="2355.7">4</text><text x="107.5" y="2400.2">3</text><text x="107.5" y="2444.6">2</text><text x="107.5" y="2489.1">1</text><text x="107.5" y="2533.5">0</text>
</g>
<g class="k" text-anchor="middle">
<text x="290.5" y="2549.5">06/23 15:11</text><text x="539.6" y="2549.5">06/23 15:21</text><text x="787.8" y="2549.5">06/23 15:31</text><text x="1036.9" y="2549.5">06/23 15:41</text><text x="1285.2" y="2549.5">06/23 15:51</text><text x="1534.5" y="2549.5">06/23 16:01</text>
<text transform="translate(77,2416.4) rotate(-90)"><tspan class="m">β</tspan><tspan class="m" font-size="12" dy="3">p</tspan><tspan dy="-3"> and </tspan><tspan class="m">β</tspan></text>
</g>
<rect class="lb" x="1608.4" y="2312.9" width="67.7" height="30.8"/>
<path d="M1618.6 2326.8H1639.3" stroke="#00f" stroke-width="2"/>
<text class="lg" x="1656.5" y="2331.8"><tspan class="m">β</tspan><tspan class="m" font-size="10" dy="3">p</tspan></text>

<!-- Proton density -->
<text class="t" x="900" y="2629.4" text-anchor="middle">Proton Number Density</text>
<g transform="translate(0,2590) scale(1.14796,0.45281)">
<polyline class="ln" stroke="#00f" points="102,514 1090,514 1140,511 1205,510 1228,516 1314,517 1336,510 1358,510 1379,513 1401,516 1423,515 1444,517 1465,518"/>
</g>
<rect class="fr" x="117" y="2638.9" width="1566" height="222.2"/>
<path class="tk" d="M290.5 2861.1v-6M539.6 2861.1v-6M787.8 2861.1v-6M1036.9 2861.1v-6M1285.2 2861.1v-6M1534.5 2861.1v-6M290.5 2638.9v6M539.6 2638.9v6M787.8 2638.9v6M1036.9 2638.9v6M1285.2 2638.9v6M1534.5 2638.9v6M117 2666.7h6M117 2694.5h6M117 2722.2h6M117 2750h6M117 2777.8h6M117 2805.6h6M117 2833.3h6M1683 2666.7h-6M1683 2694.5h-6M1683 2722.2h-6M1683 2750h-6M1683 2777.8h-6M1683 2805.6h-6M1683 2833.3h-6"/>
<g class="k" text-anchor="end">
<text x="107.5" y="2644.9">40</text><text x="107.5" y="2672.7">35</text><text x="107.5" y="2700.5">30</text><text x="107.5" y="2728.2">25</text><text x="107.5" y="2756">20</text><text x="107.5" y="2783.8">15</text><text x="107.5" y="2811.6">10</text><text x="107.5" y="2839.3">5</text><text x="107.5" y="2867.1">0</text>
</g>
<g class="k" text-anchor="middle">
<text x="290.5" y="2883.1">06/23 15:11</text><text x="539.6" y="2883.1">06/23 15:21</text><text x="787.8" y="2883.1">06/23 15:31</text><text x="1036.9" y="2883.1">06/23 15:41</text><text x="1285.2" y="2883.1">06/23 15:51</text><text x="1534.5" y="2883.1">06/23 16:01</text>
<text transform="translate(71,2750) rotate(-90)">Np(#/cc)</text>
</g>

<!-- Proton temperature -->
<text class="t" x="900" y="2963" text-anchor="middle">Proton Temperature and <tspan class="m">T</tspan><tspan class="m" font-size="15" dy="4">e</tspan><tspan class="m" dy="-4">/T</tspan><tspan class="m" font-size="15" dy="4">p</tspan></text>
<g transform="translate(0,2590) scale(1.14796,0.45281)">
<polyline class="ln" stroke="#00f" points="102,1297 124,1298 146,1299 168,1300 189,1301 211,1303 232,1305 254,1303 275,1298 297,1304 318,1306 340,1304 361,1306 383,1302 405,1302 427,1297 448,1306 470,1308 491,1310 513,1311 535,1312 556,1312 578,1307 600,1309 622,1306 643,1306 665,1307 686,1306 708,1305 730,1305 751,1307 773,1308 795,1307 816,1308 838,1308 860,1308 881,1309 903,1310 925,1309 946,1308 968,1307 990,1307 1011,1308 1033,1308 1055,1308 1076,1311 1098,1310 1119,1310 1141,1306 1163,1308 1184,1309 1206,1309 1228,1307 1250,1312 1271,1310 1293,1308 1314,1307 1336,1307 1358,1308 1379,1310 1401,1309 1423,1310 1444,1311 1465,1310"/>
</g>
<rect class="fr" x="117" y="2972.5" width="1566" height="222.2"/>
<path class="tk" d="M290.5 3194.7v-6M539.6 3194.7v-6M787.8 3194.7v-6M1036.9 3194.7v-6M1285.2 3194.7v-6M1534.5 3194.7v-6M290.5 2972.5v6M539.6 2972.5v6M787.8 2972.5v6M1036.9 2972.5v6M1285.2 2972.5v6M1534.5 2972.5v6M117 3016.9h6M117 3061.4h6M117 3105.8h6M117 3150.3h6M1683 3016.9h-6M1683 3061.4h-6M1683 3105.8h-6M1683 3150.3h-6"/>
<g class="k" text-anchor="end">
<text x="107.5" y="2978.5">0.5</text><text x="107.5" y="3022.9">0.4</text><text x="107.5" y="3067.4">0.3</text><text x="107.5" y="3111.8">0.2</text><text x="107.5" y="3156.3">0.1</text><text x="107.5" y="3200.7">0.0</text>
</g>
<g class="k" text-anchor="middle">
<text x="290.5" y="3216.7">06/23 15:11</text><text x="539.6" y="3216.7">06/23 15:21</text><text x="787.8" y="3216.7">06/23 15:31</text><text x="1036.9" y="3216.7">06/23 15:41</text><text x="1285.2" y="3216.7">06/23 15:51</text><text x="1534.5" y="3216.7">06/23 16:01</text>
<text transform="translate(64,3083.6) rotate(-90)">Tp(10<tspan font-size="11.5" dy="-7">6</tspan><tspan dy="7">K)</tspan></text>
</g>
<rect class="lb" x="122.8" y="2979.4" width="72.4" height="27.2"/>
<path d="M134.3 2993H157.3" stroke="#00f" stroke-width="2"/>
<text class="lg" x="170" y="2998">Tp</text>
</svg>
</body></html>
